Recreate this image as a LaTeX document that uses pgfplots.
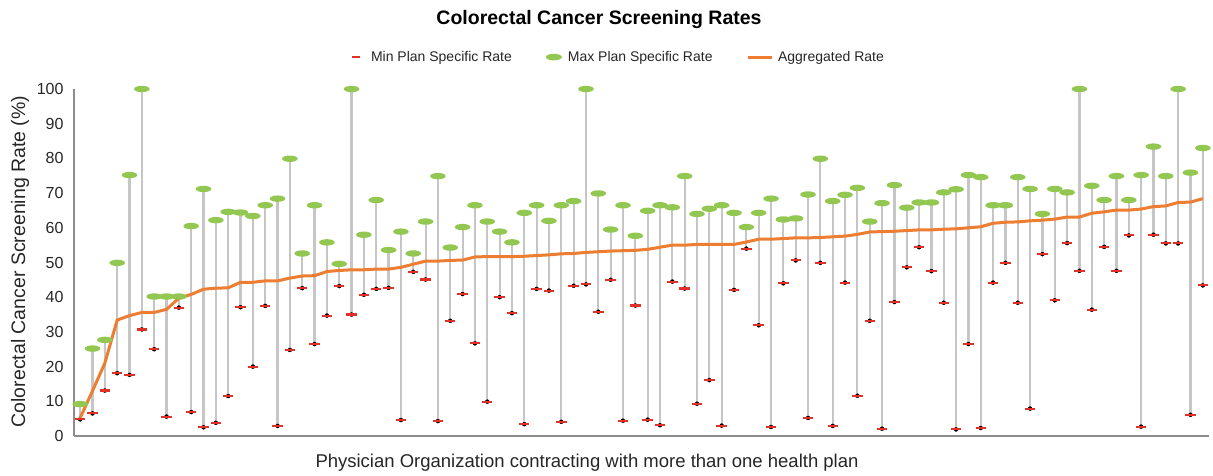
\documentclass[border=0pt]{standalone}
\usepackage{pgfplots}
\pgfplotsset{compat=1.18}
\usepackage{pgfplotstable}
\usepackage{fontspec}
\setmainfont{Liberation Sans}

\definecolor{minRed}{RGB}{226,48,38}
\definecolor{maxGreen}{RGB}{146,200,82}
\definecolor{aggOrange}{RGB}{237,125,49}
\definecolor{barGray}{RGB}{198,198,198}
\definecolor{axGray}{RGB}{140,140,140}

\pgfdeclareplotmark{ell}{\pgfpathellipse{\pgfpointorigin}{\pgfpoint{7.8pt}{0pt}}{\pgfpoint{0pt}{3.2pt}}\pgfusepathqfill}
\pgfdeclareplotmark{hbar}{\pgfpathrectangle{\pgfpoint{-5.2pt}{-1.05pt}}{\pgfpoint{10.4pt}{2.1pt}}\pgfusepathqfill}

\pgfplotstableread{
x min max agg
1 4.8 9.2 5.2
2 6.5 25.2 13.0
3 13.1 27.7 21.0
4 18.1 49.9 33.4
5 17.6 75.2 34.7
6 30.7 100 35.6
7 25.0 40.2 35.6
8 5.6 40.2 36.5
9 37.0 40.2 39.7
10 6.9 60.5 40.8
11 2.5 71.2 42.3
12 3.8 62.2 42.6
13 11.5 64.6 42.7
14 37.1 64.4 44.3
15 20.0 63.4 44.3
16 37.5 66.5 44.7
17 2.9 68.4 44.7
18 24.8 79.9 45.5
19 42.6 52.6 46.1
20 26.5 66.5 46.2
21 34.7 55.8 47.4
22 43.2 49.6 47.7
23 35.0 100 47.9
24 40.7 58.0 47.9
25 42.4 68.0 48.1
26 42.7 53.6 48.1
27 4.6 58.9 48.6
28 47.3 52.6 49.5
29 45.1 61.8 50.4
30 4.3 74.9 50.4
31 33.2 54.3 50.6
32 40.9 60.2 50.7
33 26.7 66.5 51.6
34 9.9 61.8 51.7
35 40.0 58.9 51.7
36 35.4 55.8 51.7
37 3.4 64.3 51.8
38 42.4 66.5 52.0
39 41.9 62.0 52.2
40 4.1 66.5 52.5
41 43.3 67.7 52.6
42 43.7 100 52.9
43 35.8 69.9 53.1
44 45.0 59.5 53.3
45 4.4 66.5 53.4
46 37.6 57.7 53.5
47 4.7 64.9 53.8
48 3.1 66.5 54.4
49 44.5 65.9 55.0
50 42.5 74.9 55.0
51 9.3 64.0 55.2
52 16.1 65.5 55.2
53 3.0 66.5 55.2
54 42.1 64.3 55.2
55 54.0 60.2 55.9
56 31.9 64.3 56.7
57 2.6 68.4 56.7
58 44.0 62.4 56.9
59 50.6 62.7 57.1
60 5.2 69.6 57.1
61 49.9 79.9 57.2
62 2.9 67.7 57.4
63 44.2 69.5 57.6
64 11.6 71.5 58.1
65 33.2 61.8 58.8
66 2.1 67.1 58.9
67 38.6 72.3 59.0
68 48.6 65.8 59.2
69 54.4 67.3 59.4
70 47.5 67.3 59.4
71 38.4 70.2 59.6
72 1.9 71.1 59.7
73 26.5 75.2 60.0
74 2.3 74.6 60.3
75 44.2 66.5 61.3
76 49.9 66.5 61.6
77 38.4 74.6 61.7
78 7.9 71.2 62.0
79 52.4 64.0 62.2
80 39.1 71.2 62.5
81 55.6 70.2 63.1
82 47.6 100 63.1
83 36.4 72.1 64.2
84 54.5 68.0 64.6
85 47.6 74.9 65.1
86 57.8 68.0 65.1
87 2.7 75.2 65.4
88 58.0 83.4 66.1
89 55.5 74.9 66.3
90 55.5 100 67.3
91 6.1 75.9 67.4
92 43.4 83.0 68.4
}\data

\pgfplotsset{
  common/.style={
    at={(0pt,0pt)}, anchor=south west,
    scale only axis, width=1135pt, height=347pt,
    xmin=0.5, xmax=92.5, ymin=0, ymax=100,
    clip=false,
  }
}

\begin{document}
\begin{tikzpicture}
\path[use as bounding box] (-74pt,-40pt) rectangle (1139pt,436pt);
% background axis: grey min-max connectors
\begin{axis}[common, hide axis]
\addplot[only marks, mark=none,
  error bars/.cd, y dir=plus, y explicit, error mark=none,
  error bar style={line width=2.2pt, color=barGray}]
  table[x=x, y=min, y error expr=\thisrow{max}-\thisrow{min}] {\data};
\end{axis}
% main axis
\begin{axis}[
  common,
  axis x line=bottom, axis y line=left,
  axis line style={draw=axGray, line width=1.3pt, -},
  xtick=\empty, ytick={0,10,...,100},
  major tick length=0pt,
  /pgf/number format/assume math mode=true,
  yticklabel style={font=\fontsize{16}{19}\selectfont, text=black!85, xshift=-7pt},
  title={Colorectal Cancer Screening Rates},
  title style={font=\bfseries\fontsize{19.5}{23}\selectfont, at={(axis description cs:0.4626,1.184)}, anchor=center},
  xlabel={Physician Organization contracting with more than one health plan},
  xlabel style={font=\fontsize{18.5}{22}\selectfont, text=black!85, at={(axis description cs:0.452,-0.078)}, anchor=center},
  ylabel={Colorectal Cancer Screening Rate (\%)},
  ylabel style={font=\fontsize{19.5}{23}\selectfont, text=black!85, at={(axis description cs:-0.0475,0.503)}, anchor=center},
  legend columns=3,
  legend style={draw=none, fill=none, font=\fontsize{14}{17}\selectfont, text=black!85,
    at={(axis description cs:0.4784,1.092)}, anchor=center,
    /tikz/every even column/.append style={column sep=32pt}},
  legend cell align=left,
]
\addplot[only marks, mark=hbar, color=minRed, mark options={fill=minRed, draw=none},
  legend image code/.code={\path[draw=none, fill=none] (0pt,-1pt) rectangle (21pt,1pt);\fill[minRed, draw=none] (4pt,-1.1pt) rectangle (12pt,1.1pt);}]
  table[x=x, y=min] {\data};
\addlegendentry{Min Plan Specific Rate}
\addplot[only marks, mark=ell, color=maxGreen, mark options={fill=maxGreen, draw=none},
  legend image code/.code={\path[draw=none, fill=none] (0pt,-1pt) rectangle (20pt,1pt);\fill[maxGreen, draw=none] (8pt,0pt) ellipse (8pt and 3.3pt);}]
  table[x=x, y=max] {\data};
\addlegendentry{Max Plan Specific Rate}
\addplot[no marks, color=aggOrange, line width=3pt,
  legend image code/.code={\path[draw=none, fill=none] (0pt,-1pt) rectangle (28pt,1pt);\draw[aggOrange, line width=3pt] (0pt,0pt) -- (24pt,0pt);}]
  table[x=x, y=agg] {\data};
\addlegendentry{Aggregated Rate}
\end{axis}
\end{tikzpicture}
\end{document}
